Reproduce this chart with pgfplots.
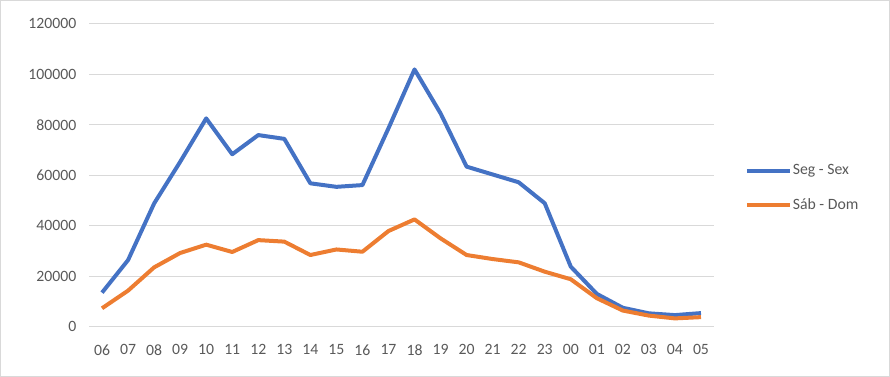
\documentclass[border=0pt]{standalone}
\usepackage{pgfplots}
\pgfplotsset{compat=1.18}
\usepackage{fontspec}
\setmainfont{Carlito}
\definecolor{cblue}{HTML}{4472C4}
\definecolor{corange}{HTML}{ED7D31}
\definecolor{cgrid}{HTML}{D9D9D9}
\definecolor{ctext}{HTML}{595959}
\begin{document}
\begin{tikzpicture}
\useasboundingbox (0,0) rectangle (667.5pt,282.75pt);
\draw[cgrid, line width=0.75pt] (0.4pt,0.4pt) rectangle (667.1pt,282.35pt);
\begin{axis}[
  at={(66.75pt,37.7pt)}, anchor=south west,
  scale only axis, width=468.75pt, height=227.25pt,
  xmin=-0.5, xmax=23.5, ymin=0, ymax=120000,
  xtick={0,...,23},
  xticklabels={06,07,08,09,10,11,12,13,14,15,16,17,18,19,20,21,22,23,00,01,02,03,04,05},
  ytick={0,20000,...,120000},
  scaled y ticks=false,
  /pgf/number format/fixed,
  /pgf/number format/1000 sep={},
  /pgf/number format/assume math mode=true,
  axis line style={draw=none},
  ymajorgrids, grid style={cgrid, line width=0.75pt},
  major tick length=0pt,
  tick label style={font=\fontsize{11.8pt}{13pt}\selectfont, text=ctext},
  xticklabel style={yshift=-10pt},
  yticklabel style={xshift=-6pt},
  legend style={at={(1.049,0.458)}, anchor=west, draw=none, fill=none, inner sep=0pt,
    font=\fontsize{11.8pt}{13pt}\selectfont, text=ctext, row sep=12pt,
    nodes={inner xsep=1pt},
    /tikz/every even column/.append style={column sep=0pt}},
  legend cell align=left,
  legend image code/.code={\draw[#1] (0pt,0pt) -- (32pt,0pt);},
]
\addplot[cblue, line width=3pt, line join=round] coordinates {
(0,13500) (1,26400) (2,48800) (3,65300) (4,82500) (5,68300) (6,75900) (7,74400)
(8,56800) (9,55400) (10,56100) (11,78600) (12,101900) (13,84500) (14,63400) (15,60300)
(16,57200) (17,48900) (18,23800) (19,13000) (20,7500) (21,5300) (22,4600) (23,5400)};
\addlegendentry{Seg - Sex}
\addplot[corange, line width=3pt, line join=round] coordinates {
(0,7300) (1,14300) (2,23500) (3,29200) (4,32500) (5,29600) (6,34300) (7,33700)
(8,28400) (9,30600) (10,29700) (11,37900) (12,42500) (13,35000) (14,28400) (15,26800)
(16,25500) (17,21800) (18,18800) (19,11300) (20,6400) (21,4400) (22,3300) (23,3800)};
\addlegendentry{Sáb - Dom}
\end{axis}
\end{tikzpicture}
\end{document}
